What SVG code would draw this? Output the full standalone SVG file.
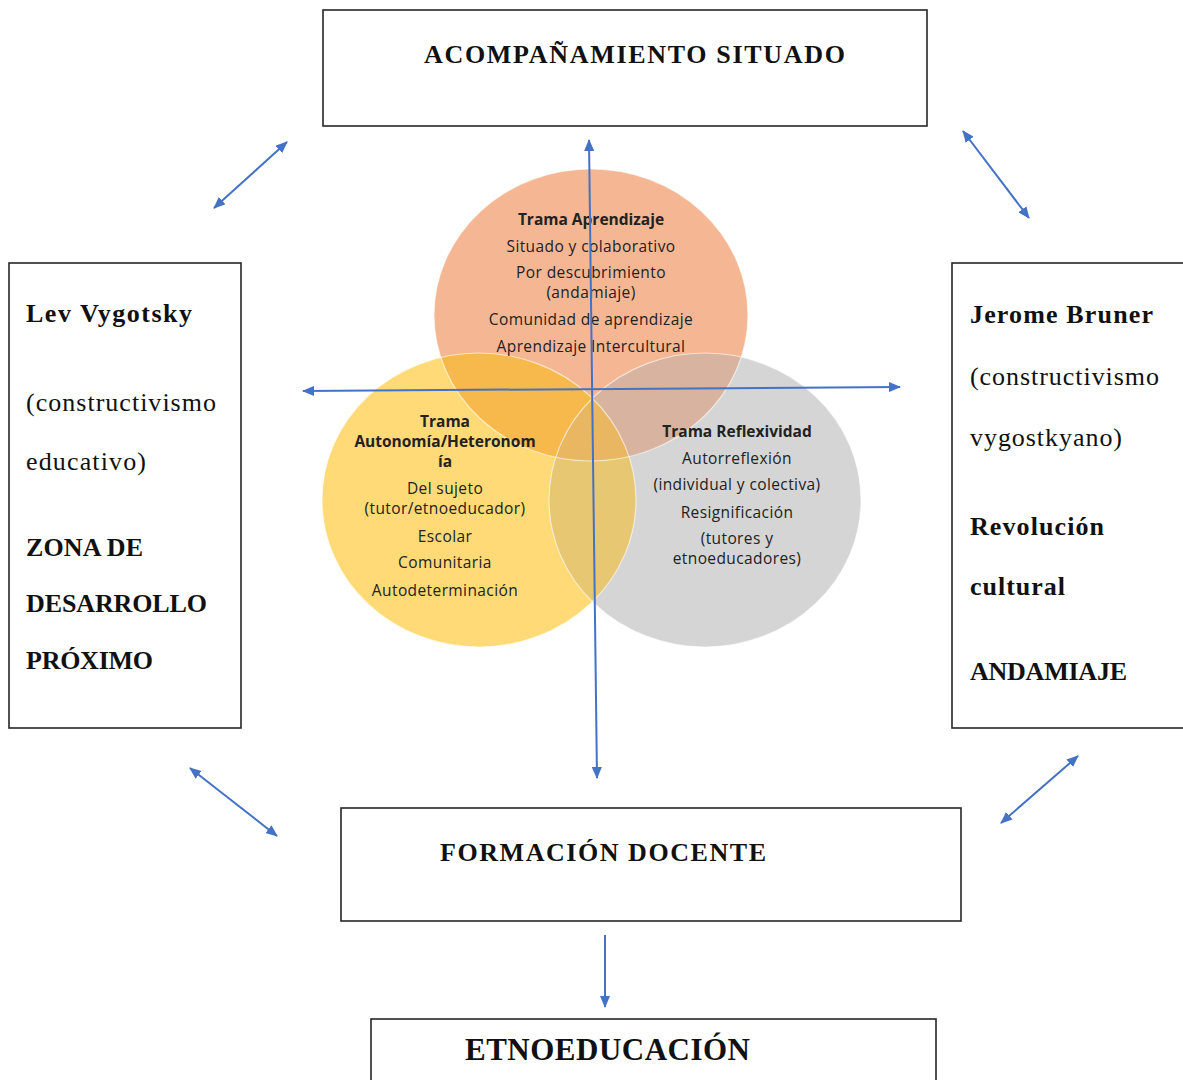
<svg xmlns="http://www.w3.org/2000/svg" width="1183" height="1080" viewBox="0 0 1183 1080">
  <style>
    .box { fill: #ffffff; stroke: #262626; stroke-width: 1.6; }
    .serif { font-family: "Liberation Serif", "Times New Roman", serif; fill: #111; }
    .sb { font-weight: bold; }
    .venn { font-family: "Open Sans", "Noto Sans", sans-serif; font-size: 15.5px; fill: #222; text-anchor: middle; letter-spacing: 0.4px; }
    .vb { font-weight: bold; letter-spacing: 0; }
    .link { stroke: #4472C4; stroke-width: 2; fill: none; }
  </style>
  <defs>
    <marker id="head" viewBox="0 0 12 10" refX="11" refY="5" markerWidth="12" markerHeight="10" markerUnits="userSpaceOnUse" orient="auto-start-reverse">
      <path d="M0,0 L12,5 L0,10 Z" fill="#4472C4"/>
    </marker>
    <clipPath id="cOrange"><ellipse cx="591" cy="315" rx="157" ry="146"/></clipPath>
    <clipPath id="cYellow"><ellipse cx="479" cy="500" rx="157" ry="147"/></clipPath>
    <clipPath id="cGray"><ellipse cx="705" cy="500" rx="156" ry="147"/></clipPath>
  </defs>

  <rect width="1183" height="1080" fill="#ffffff"/>

  <!-- Venn of the three "tramas" -->
  <g id="venn">
    <ellipse cx="591" cy="315" rx="157" ry="146" fill="#F5B793"/>
    <ellipse cx="479" cy="500" rx="157" ry="147" fill="#FFDA76"/>
    <ellipse cx="705" cy="500" rx="156" ry="147" fill="#D5D5D5"/>
    <!-- overlaps -->
    <ellipse cx="479" cy="500" rx="157" ry="147" fill="#F7B84C" clip-path="url(#cOrange)"/>
    <ellipse cx="705" cy="500" rx="156" ry="147" fill="#D8B39F" clip-path="url(#cOrange)"/>
    <g clip-path="url(#cYellow)">
      <ellipse cx="705" cy="500" rx="156" ry="147" fill="#E7C772"/>
      <ellipse cx="591" cy="315" rx="157" ry="146" fill="#E9B661" clip-path="url(#cGray)"/>
    </g>
    <ellipse cx="591" cy="315" rx="157" ry="146" fill="none" stroke="#ffffff" stroke-opacity="0.6" stroke-width="1.2"/>
    <ellipse cx="479" cy="500" rx="157" ry="147" fill="none" stroke="#ffffff" stroke-opacity="0.6" stroke-width="1.2"/>
    <ellipse cx="705" cy="500" rx="156" ry="147" fill="none" stroke="#ffffff" stroke-opacity="0.6" stroke-width="1.2"/>
  </g>

  <g id="trama-aprendizaje" class="venn">
    <text x="591" y="225" class="vb">Trama Aprendizaje</text>
    <text x="591" y="252">Situado y colaborativo</text>
    <text x="591" y="278">Por descubrimiento</text>
    <text x="591" y="298">(andamiaje)</text>
    <text x="591" y="325">Comunidad de aprendizaje</text>
    <text x="591" y="352">Aprendizaje Intercultural</text>
  </g>

  <g id="trama-autonomia" class="venn">
    <text x="445" y="427" class="vb">Trama</text>
    <text x="445" y="447" class="vb">Autonomía/Heteronom</text>
    <text x="445" y="467" class="vb">ía</text>
    <text x="445" y="494">Del sujeto</text>
    <text x="445" y="514">(tutor/etnoeducador)</text>
    <text x="445" y="542">Escolar</text>
    <text x="445" y="568">Comunitaria</text>
    <text x="445" y="596">Autodeterminación</text>
  </g>

  <g id="trama-reflexividad" class="venn">
    <text x="737" y="437" class="vb">Trama Reflexividad</text>
    <text x="737" y="464">Autorreflexión</text>
    <text x="737" y="490">(individual y colectiva)</text>
    <text x="737" y="518">Resignificación</text>
    <text x="737" y="544">(tutores y</text>
    <text x="737" y="564">etnoeducadores)</text>
  </g>

  <!-- connectors -->
  <g id="connectors" class="link">
    <line x1="303" y1="391" x2="900" y2="387" marker-start="url(#head)" marker-end="url(#head)"/>
    <line x1="589" y1="140" x2="597" y2="778" marker-start="url(#head)" marker-end="url(#head)"/>
    <line x1="214" y1="208" x2="287" y2="142" marker-start="url(#head)" marker-end="url(#head)"/>
    <line x1="963" y1="131" x2="1029" y2="218" marker-start="url(#head)" marker-end="url(#head)"/>
    <line x1="190" y1="768" x2="277" y2="836" marker-start="url(#head)" marker-end="url(#head)"/>
    <line x1="1001" y1="823" x2="1078" y2="756" marker-start="url(#head)" marker-end="url(#head)"/>
    <line x1="605" y1="935" x2="605" y2="1007" marker-end="url(#head)"/>
  </g>

  <g id="acompanamiento">
    <rect class="box" x="323" y="10" width="604" height="116"/>
    <text class="serif sb" x="424" y="63" font-size="26" textLength="421" lengthAdjust="spacing">ACOMPAÑAMIENTO SITUADO</text>
  </g>

  <g id="vygotsky" class="serif" font-size="26">
    <rect class="box" x="9" y="263" width="232" height="465"/>
    <text x="26" y="322" class="sb" textLength="166" lengthAdjust="spacing">Lev Vygotsky</text>
    <text x="26" y="411" textLength="190" lengthAdjust="spacing">(constructivismo</text>
    <text x="26" y="470" textLength="120" lengthAdjust="spacing">educativo)</text>
    <text x="26" y="556" class="sb" textLength="117" lengthAdjust="spacing">ZONA DE</text>
    <text x="26" y="612" class="sb" textLength="181" lengthAdjust="spacing">DESARROLLO</text>
    <text x="26" y="669" class="sb" textLength="127" lengthAdjust="spacing">PRÓXIMO</text>
  </g>

  <g id="bruner" class="serif" font-size="26">
    <rect class="box" x="952" y="263" width="250" height="465"/>
    <text x="970" y="323" class="sb" textLength="183" lengthAdjust="spacing">Jerome Bruner</text>
    <text x="970" y="385" textLength="189" lengthAdjust="spacing">(constructivismo</text>
    <text x="970" y="446" textLength="152" lengthAdjust="spacing">vygostkyano)</text>
    <text x="970" y="535" class="sb" textLength="134" lengthAdjust="spacing">Revolución</text>
    <text x="970" y="595" class="sb" textLength="95" lengthAdjust="spacing">cultural</text>
    <text x="970" y="680" class="sb" textLength="157" lengthAdjust="spacing">ANDAMIAJE</text>
  </g>

  <g id="formacion">
    <rect class="box" x="341" y="808" width="620" height="113"/>
    <text class="serif sb" x="440" y="861" font-size="26" textLength="326" lengthAdjust="spacing">FORMACIÓN DOCENTE</text>
  </g>

  <g id="etnoeducacion">
    <rect class="box" x="371" y="1019" width="565" height="80"/>
    <text class="serif sb" x="465" y="1060" font-size="31" textLength="285" lengthAdjust="spacing">ETNOEDUCACIÓN</text>
  </g>
</svg>
